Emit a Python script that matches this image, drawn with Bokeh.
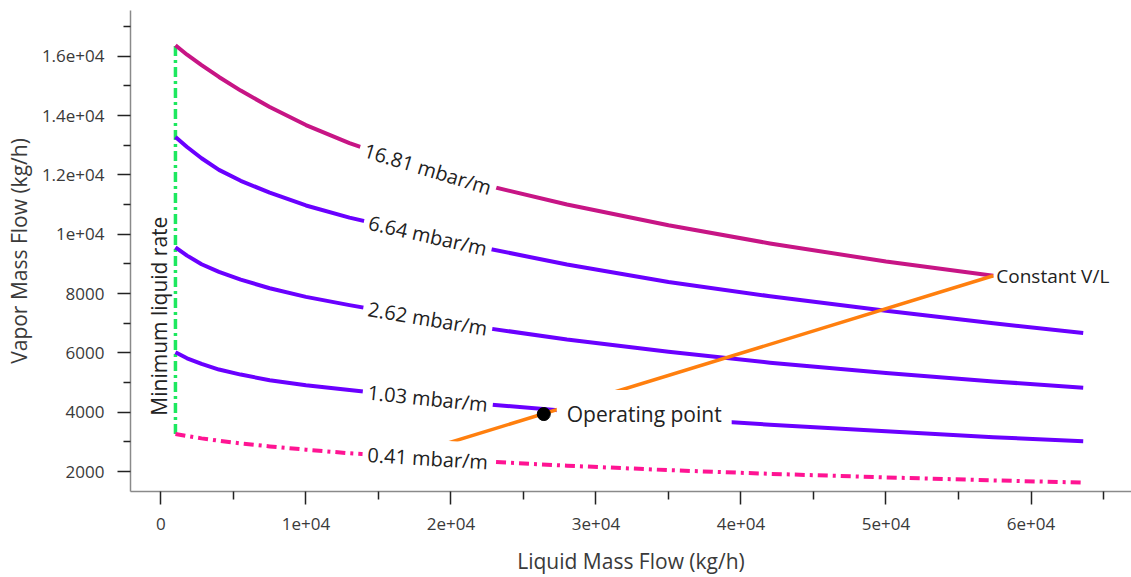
import numpy as np
from bokeh.plotting import figure
from bokeh.models import Range1d, FixedTicker, Label
from bokeh.embed import file_html
from bokeh.resources import INLINE

# ---------------- data ----------------
liquid_flow = [1000, 1800, 2800, 4000, 5500, 7500, 10000, 13000, 17000, 22000,
               28000, 35000, 42000, 50000, 57400, 63600]
vapor_16_81 = [16370, 16050, 15700, 15300, 14840, 14290, 13680, 13070, 12400, 11700,
               11000, 10300, 9690, 9080, 8600]
vapor_6_64 = [13280, 12940, 12560, 12170, 11800, 11400, 10970, 10560, 10110, 9570,
              8980, 8390, 7910, 7420, 7000, 6670]
vapor_2_62 = [9560, 9280, 8990, 8730, 8470, 8180, 7890, 7610, 7270, 6870,
              6450, 6040, 5670, 5320, 5040, 4830]
vapor_1_03 = [6020, 5820, 5630, 5440, 5270, 5080, 4910, 4750, 4540, 4290,
              4040, 3800, 3580, 3360, 3160, 3020]
vapor_0_41 = [3270, 3200, 3120, 3040, 2950, 2850, 2740, 2620, 2490, 2350,
              2200, 2050, 1925, 1805, 1705, 1630]
curve_labels = ["16.81 mbar/m", "6.64 mbar/m", "2.62 mbar/m", "1.03 mbar/m", "0.41 mbar/m"]

operating_liquid = 26400
operating_vapor = 3940
min_liquid_rate = 1000
const_vl_liquid = [16700, 57400]
const_vl_vapor = [2500, 8600]

x_ticks = [0, 10000, 20000, 30000, 40000, 50000, 60000]
x_tick_labels = ["0", "1e+04", "2e+04", "3e+04", "4e+04", "5e+04", "6e+04"]
x_minor = [-5000, 5000, 15000, 25000, 35000, 45000, 55000, 65000]
y_ticks = [2000, 4000, 6000, 8000, 10000, 12000, 14000, 16000]
y_tick_labels = ["2000", "4000", "6000", "8000", "1e+04", "1.2e+04", "1.4e+04", "1.6e+04"]
y_minor = [3000, 5000, 7000, 9000, 11000, 13000, 15000, 17000]

# ---------------- figure ----------------
FONT = "Open Sans"
W, H = 1131, 577
ML, MR, MT, MB = 130, 0, 10, 84
x0, x1 = -2100, 66930
y0, y1 = 1330, 17540

p = figure(width=W, height=H, x_range=Range1d(x0, x1), y_range=Range1d(y0, y1),
           output_backend="svg", toolbar_location=None,
           min_border_left=ML, min_border_right=MR, min_border_top=MT, min_border_bottom=MB)
p.outline_line_color = None
p.grid.visible = False
p.background_fill_color = "white"

p.xaxis.ticker = FixedTicker(ticks=x_ticks, minor_ticks=x_minor)
p.yaxis.ticker = FixedTicker(ticks=y_ticks, minor_ticks=y_minor)
p.xaxis.major_label_overrides = dict(zip(x_ticks, x_tick_labels))
p.yaxis.major_label_overrides = dict(zip(y_ticks, y_tick_labels))
p.xaxis.axis_label = "Liquid Mass Flow (kg/h)"
p.yaxis.axis_label = "Vapor Mass Flow (kg/h)"
for ax in (p.xaxis, p.yaxis):
    ax.axis_line_color = "#8a8a8a"
    ax.axis_line_width = 1.5
    ax.major_tick_line_color = "#222222"
    ax.major_tick_line_width = 1.5
    ax.minor_tick_line_color = "#222222"
    ax.minor_tick_line_width = 1.5
    ax.major_tick_in = 0
    ax.minor_tick_in = 0
    ax.major_tick_out = 13
    ax.major_label_text_font = FONT
    ax.major_label_text_font_size = "17px"
    ax.major_label_text_color = "#3a3a3a"
    ax.axis_label_text_font = FONT
    ax.axis_label_text_font_size = "21px"
    ax.axis_label_text_font_style = "normal"
    ax.axis_label_text_color = "#3a3a3a"
p.xaxis.minor_tick_out = 8
p.yaxis.minor_tick_out = 7
p.xaxis.major_label_standoff = 13
p.xaxis.axis_label_standoff = 14
p.yaxis.major_label_standoff = 13
p.yaxis.axis_label_standoff = 6

# ---------------- curves ----------------
curves = [
    (vapor_16_81, "#c71585", "solid"),
    (vapor_6_64, "#6a00ff", "solid"),
    (vapor_2_62, "#6a00ff", "solid"),
    (vapor_1_03, "#6a00ff", "solid"),
    (vapor_0_41, "#ff1493", "10 5 3 5"),
]

# minimum liquid rate line
p.line([min_liquid_rate, min_liquid_rate], [vapor_0_41[0], vapor_16_81[0]],
       line_color="#1de85f", line_width=3.5, line_dash="10 4 3 4")

for vals, col, dash in curves:
    p.line(liquid_flow[:len(vals)], vals, line_color=col, line_width=4,
           line_dash=dash, line_join="round")

# constant V/L line
p.line(const_vl_liquid, const_vl_vapor, line_color="#ff7f0e", line_width=3.5)

# operating point
op = p.scatter([operating_liquid], [operating_vapor], size=13, color="black")
op.level = "overlay"

# ---------------- labels ----------------
sx = (W - ML - MR) / (x1 - x0)
sy = (H - MT - MB) / (y1 - y0)
label_L = 18400
for (vals, col, dash), txt in zip(curves, curve_labels):
    xs = liquid_flow[:len(vals)]
    vc = float(np.interp(label_L, xs, vals))
    dv = float(np.interp(label_L + 4000, xs, vals) - np.interp(label_L - 4000, xs, vals))
    ang = np.arctan2(dv * sy, 8000 * sx)
    p.add_layout(Label(x=label_L, y=vc, text=txt, angle=ang, angle_units="rad",
                       text_align="center", text_baseline="middle",
                       text_font=FONT, text_font_size="20px", text_color="#222222",
                       background_fill_color="white", padding=5))

p.add_layout(Label(x=operating_liquid, y=operating_vapor, text="Operating point",
                   x_offset=13, text_align="left", text_baseline="middle",
                   text_font=FONT, text_font_size="21px", text_color="#222222",
                   background_fill_color="white", padding=10))

p.add_layout(Label(x=const_vl_liquid[-1], y=const_vl_vapor[-1], text="Constant V/L",
                   x_offset=3, text_align="left", text_baseline="middle",
                   text_font=FONT, text_font_size="19px", text_color="#222222"))

p.add_layout(Label(x=min_liquid_rate, y=7240, text="Minimum liquid rate",
                   angle=np.pi / 2, angle_units="rad", padding=2,
                   text_align="center", text_baseline="bottom",
                   text_font=FONT, text_font_size="21px", text_color="#222222"))

open("out.html", "w").write(file_html(p, INLINE))
